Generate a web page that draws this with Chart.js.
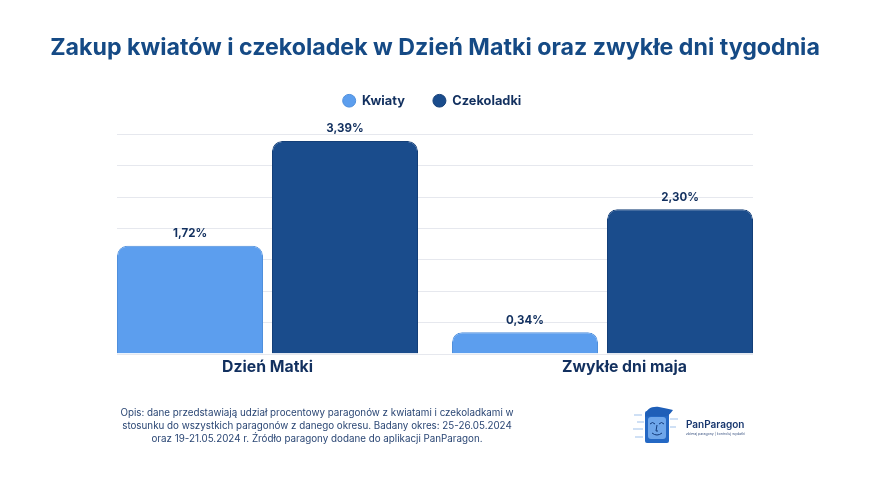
<!DOCTYPE html>
<html lang="pl">
<head>
<meta charset="utf-8">
<title>Zakup kwiatów i czekoladek</title>
<script src="https://cdn.jsdelivr.net/npm/chart.js@4"></script>
<style>
  html, body { margin: 0; padding: 0; background: #fff; }
  #wrap { position: relative; width: 870px; height: 489px; overflow: hidden; }
  #chart { position: absolute; left: 0; top: 0; }
  #note {
    position: absolute; left: 67px; top: 406px; width: 500px; text-align: center;
    font: 400 9.8px/13px Inter, sans-serif; color: #2a4674;
  }
  #note div { white-space: nowrap; }
  #logo { position: absolute; left: 630px; top: 402px; }
  #brand { position: absolute; left: 686px; top: 417px; font: 600 10px/14px Inter, sans-serif; color: #17366e; }
  #tag { position: absolute; left: 686px; top: 431px; font: 400 3.5px/6px Inter, sans-serif; color: #3b5482; white-space: nowrap; }
</style>
</head>
<body>
<div id="wrap">
  <canvas id="chart" width="870" height="489"></canvas>
  <div id="note"></div>
  <svg id="logo" width="52" height="46" viewBox="0 0 52 46">
    <g fill="#cfe0f5">
      <rect x="4" y="12" width="8" height="2"/><rect x="7" y="19" width="7" height="2"/>
      <rect x="3" y="26" width="10" height="2"/><rect x="5" y="34" width="8" height="2"/>
      <rect x="40" y="16" width="8" height="2"/><rect x="40" y="24" width="6" height="2"/>
    </g>
    <rect x="15" y="9" width="24" height="32" rx="2" fill="#2468c4"/>
    <rect x="18" y="15" width="18" height="22" rx="3" fill="#6ea6ea"/>
    <path d="M15 15 C15 7 22 4 29 5 C34 6 39 7 43 8 C41 11 39 13 37 14 C30 15 22 13 15 15 Z" fill="#1f5fb8"/>
    <path d="M20 22 q2.5 -3 5 0 M29 22 q2.5 -3 5 0 M27 23 l-1 6 h2 M22 31 q5 4 10 0" fill="none" stroke="#123a7a" stroke-width="1"/>
  </svg>
  <div id="brand">PanParagon</div>
  <div id="tag">zbieraj paragony | kontroluj wydatki</div>
</div>
<script>
  const chartTitle = 'Zakup kwiatów i czekoladek w Dzień Matki oraz zwykłe dni tygodnia';
  const categories = ['Dzień Matki', 'Zwykłe dni maja'];
  const kwiaty = [1.72, 0.34];
  const czekoladki = [3.39, 2.30];
  const noteLines = [
    'Opis: dane przedstawiają udział procentowy paragonów z kwiatami i czekoladkami w',
    'stosunku do wszystkich paragonów z danego okresu. Badany okres: 25-26.05.2024',
    'oraz 19-21.05.2024 r. Źródło paragony dodane do aplikacji PanParagon.',
  ];

  const NAVY = '#12305f';
  const FONT = 'Inter';
  const SIDE_GUTTER = 100;

  document.getElementById('note').innerHTML = noteLines.map((l) => '<div>' + l + '</div>').join('');

  // grid runs narrower than the chart area, so it is drawn by hand
  const shortGrid = {
    id: 'shortGrid',
    beforeDatasetsDraw(chart) {
      const { ctx, scales: { y } } = chart;
      ctx.save();
      ctx.strokeStyle = '#e6e8ee';
      ctx.lineWidth = 1;
      y.ticks.forEach((t) => {
        const py = Math.round(y.getPixelForValue(t.value)) + 0.5;
        ctx.beginPath();
        ctx.moveTo(117, py);
        ctx.lineTo(753, py);
        ctx.stroke();
      });
      ctx.restore();
    },
  };

  const valueLabels = {
    id: 'valueLabels',
    afterDatasetsDraw(chart) {
      const { ctx } = chart;
      ctx.save();
      ctx.fillStyle = NAVY;
      ctx.font = '700 11.5px ' + FONT;
      ctx.textAlign = 'center';
      ctx.textBaseline = 'middle';
      chart.data.datasets.forEach((ds, i) => {
        chart.getDatasetMeta(i).data.forEach((bar, j) => {
          ctx.fillText(ds.data[j].toFixed(2).replace('.', ',') + '%', bar.x, bar.y - 12);
        });
      });
      ctx.restore();
    },
  };

  // the second label sits right of its group in the original
  const categoryLabels = {
    id: 'categoryLabels',
    afterDraw(chart) {
      const { ctx, scales: { x } } = chart;
      ctx.save();
      ctx.fillStyle = NAVY;
      ctx.font = '700 15.8px ' + FONT;
      ctx.textAlign = 'center';
      ctx.textBaseline = 'middle';
      categories.forEach((c, i) => {
        ctx.fillText(c, x.getPixelForValue(i) + (i === 1 ? 22 : 0), 367);
      });
      ctx.restore();
    },
  };

  // extra room under the legend, and the legend sits a bit left of centre
  const legendTweak = {
    id: 'legendTweak',
    beforeInit(chart) {
      const { legend, ctx } = chart;
      const fit = legend.fit;
      const draw = legend.draw;
      legend.fit = function fitWithGap() {
        fit.call(this);
        this.height += 17;
      };
      legend.draw = function drawShifted() {
        ctx.save();
        ctx.translate(-3, 0);
        draw.call(this);
        ctx.restore();
      };
    },
  };

  // side gutters come from empty axes, layout padding would squeeze the title
  const gutterAxis = (position) => ({
    position,
    min: 0,
    max: 3.5,
    grid: { display: false },
    border: { display: false },
    ticks: { display: false, stepSize: 0.5 },
    afterFit(scale) {
      scale.width = SIDE_GUTTER;
    },
  });

  const canvas = document.getElementById('chart');
  canvas.getContext('2d').letterSpacing = '0.3px';

  new Chart(canvas, {
    type: 'bar',
    data: {
      labels: categories,
      datasets: [
        {
          label: 'Kwiaty',
          data: kwiaty,
          backgroundColor: '#5c9eee',
          borderColor: '#4f8fdc',
          borderWidth: 1,
          borderSkipped: 'bottom',
          borderRadius: { topLeft: 10, topRight: 10 },
        },
        {
          label: 'Czekoladki',
          data: czekoladki,
          backgroundColor: '#1a4c8c',
          borderColor: '#143f78',
          borderWidth: 1,
          borderSkipped: 'bottom',
          borderRadius: { topLeft: 10, topRight: 10 },
        },
      ],
    },
    options: {
      responsive: false,
      animation: false,
      devicePixelRatio: 1,
      categoryPercentage: 0.9254,
      barPercentage: 0.942,
      layout: { padding: { top: 34.5, bottom: 135.5 } },
      scales: {
        x: { display: false },
        y: gutterAxis('left'),
        yRight: gutterAxis('right'),
      },
      plugins: {
        title: {
          display: true,
          text: chartTitle,
          color: '#154a85',
          font: { family: FONT, size: 23.2, weight: '700' },
          padding: { top: 0, bottom: 4 },
        },
        legend: {
          display: true,
          position: 'top',
          labels: {
            usePointStyle: true,
            pointStyle: 'circle',
            pointStyleWidth: 13,
            boxHeight: 9,
            padding: 28,
            color: NAVY,
            font: { family: FONT, size: 12.8, weight: '700' },
          },
        },
        tooltip: { enabled: false },
      },
    },
    plugins: [legendTweak, shortGrid, valueLabels, categoryLabels],
  });
</script>
</body>
</html>
